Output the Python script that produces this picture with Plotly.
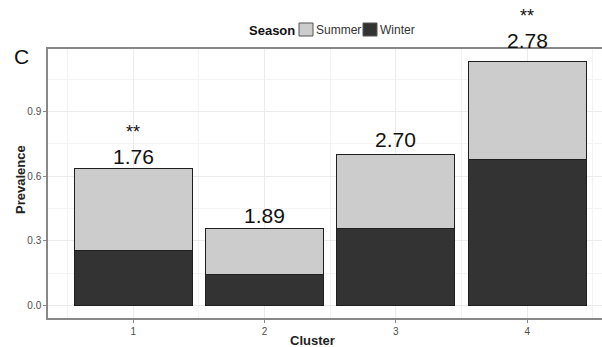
import plotly.graph_objects as go

# Prevalence by cluster, stacked by season
clusters = [1, 2, 3, 4]
winter = [0.258, 0.146, 0.356, 0.680]
summer = [0.379, 0.213, 0.346, 0.454]
ratio_labels = ["1.76", "1.89", "2.70", "2.78"]
signif_labels = ["**", "", "", "**"]
y_ticks = [0.0, 0.3, 0.6, 0.9]
y_tick_text = ["0.0", "0.3", "0.6", "0.9"]

seasons = ["Summer", "Winter"]
season_colors = {"Summer": "#cccccc", "Winter": "#333333"}

totals = [w + s for w, s in zip(winter, summer)]

FONT = "Liberation Sans, Arial, sans-serif"
OUTLINE = dict(color="#1f1f1f", width=1)

fig = go.Figure()
fig.add_trace(go.Bar(x=clusters, y=winter, name="Winter", width=0.9,
                     marker=dict(color=season_colors["Winter"], line=OUTLINE)))
fig.add_trace(go.Bar(x=clusters, y=summer, name="Summer", width=0.9,
                     marker=dict(color=season_colors["Summer"], line=OUTLINE)))

# ratio labels above the bars, significance stars above the ratios
label_lift = [12, 13, 15, 21]  # pixels between bar top and label centre
for c, t, lift, r, s in zip(clusters, totals, label_lift, ratio_labels, signif_labels):
    fig.add_annotation(x=c, y=t, xref="x", yref="y", text=r, showarrow=False,
                       yanchor="middle", yshift=lift, borderpad=0,
                       font=dict(family=FONT, size=21, color="#111111"))
    if s:
        fig.add_annotation(x=c, y=t, xref="x", yref="y", text=s, showarrow=False,
                           yanchor="bottom", yshift=lift + 13, borderpad=0,
                           font=dict(family=FONT, size=18, color="#111111"))

fig.update_layout(
    width=602, height=347,
    margin=dict(l=48, r=0, t=49, b=29),
    paper_bgcolor="white", plot_bgcolor="white",
    barmode="stack",
    font=dict(family=FONT, color="#222222"),
    showlegend=False,
    xaxis=dict(range=[0.35, 4.57], tickvals=clusters, ticktext=[str(c) for c in clusters],
               showgrid=True, gridcolor="#ebebeb", gridwidth=1,
               minor=dict(tickvals=[0.5, 1.5, 2.5, 3.5, 4.5], showgrid=True,
                          gridcolor="#f3f3f3", gridwidth=1),
               zeroline=False, showline=True, linecolor="#888888", linewidth=1.5,
               mirror=True,
               ticks="outside", ticklen=3, tickcolor="#888888",
               tickfont=dict(size=10, color="#4d4d4d")),
    yaxis=dict(range=[-0.057, 1.190], tickvals=y_ticks, ticktext=y_tick_text,
               showgrid=True, gridcolor="#ebebeb", gridwidth=1,
               minor=dict(tickvals=[0.15, 0.45, 0.75, 1.05], showgrid=True,
                          gridcolor="#f3f3f3", gridwidth=1),
               zeroline=False, showline=True, linecolor="#888888", linewidth=1.5,
               ticks="outside", ticklen=3, tickcolor="#888888",
               tickfont=dict(size=10, color="#4d4d4d")),
)

# helpers to place decorations in figure pixel positions
L, T, B = 48, 49, 29
W, H = 602 - L, 347 - T - B

def px(xp, yp):
    return (xp - L) / W, (347 - B - yp) / H

def text_at(xp, yp, text, size, color="#111111", angle=0, xanchor="center"):
    x, y = px(xp, yp)
    fig.add_annotation(x=x, y=y, xref="paper", yref="paper", text=text, showarrow=False,
                       xanchor=xanchor, yanchor="middle", textangle=angle,
                       font=dict(family=FONT, size=size, color=color))

# panel letter and axis titles
text_at(21, 57, "C", 21)
text_at(20, 180, "<b>Prevalence</b>", 13, "#222222", angle=-90)
text_at(312, 340, "<b>Cluster</b>", 13, "#222222")

# season key along the top
text_at(247, 30, "<b>Season</b>", 13, xanchor="left")
key_x = {"Summer": 299, "Winter": 363}
for season in seasons:
    x0, y0 = px(key_x[season], 36)
    x1, y1 = px(key_x[season] + 14, 23)
    fig.add_shape(type="rect", xref="paper", yref="paper", x0=x0, y0=y0, x1=x1, y1=y1,
                  fillcolor=season_colors[season], line=dict(color="#555555", width=1))
    text_at(key_x[season] + 15, 30, season, 12, "#333333", xanchor="left")

fig.write_html("out.html")
